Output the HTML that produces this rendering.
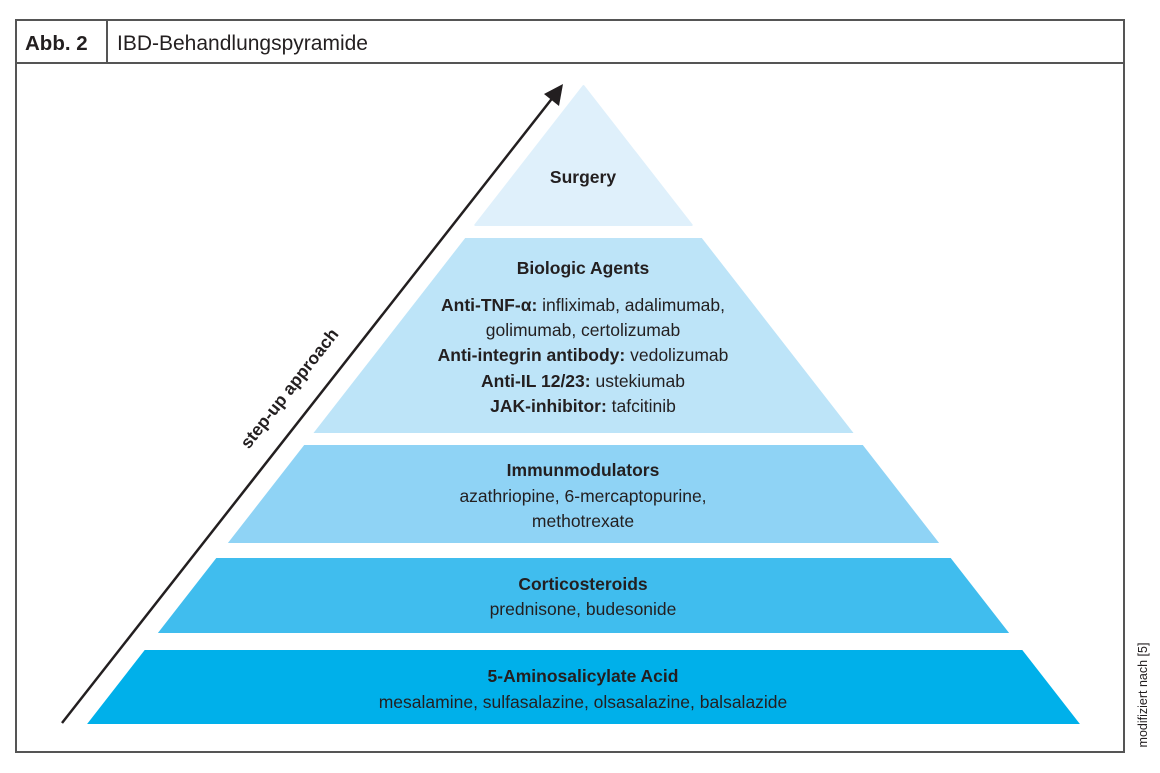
<!DOCTYPE html>
<html><head><meta charset="utf-8"><style>
html,body{margin:0;padding:0;background:#fff}
svg{display:block}
text{font-family:"Liberation Sans",Arial,sans-serif;fill:#231f20}
.b{font-weight:bold}
</style></head><body>
<svg width="1160" height="773" viewBox="0 0 1160 773">
<rect x="16" y="20" width="1108" height="732" fill="none" stroke="#555" stroke-width="2"/>
<line x1="16" y1="63" x2="1124" y2="63" stroke="#555" stroke-width="2"/>
<line x1="107" y1="20" x2="107" y2="63" stroke="#555" stroke-width="2"/>
<text x="25" y="50" font-size="20.5" class="b">Abb. 2</text>
<text x="117" y="50" font-size="21">IBD-Behandlungspyramide</text>

<polygon points="583.5,86 691.7,225 475.3,225" fill="#dff0fb" stroke="#dff0fb" stroke-linejoin="round" stroke-width="2"/>
<polygon points="465.2,238 701.8,238 853.5,433 313.5,433" fill="#bde4f8"/>
<polygon points="304.2,445 862.8,445 939.1,543 227.9,543" fill="#8fd3f5"/>
<polygon points="216.3,558 950.7,558 1009.1,633 157.9,633" fill="#40bdee"/>
<polygon points="144.7,650 1022.3,650 1079.9,724 87.1,724" fill="#00b0ea"/>

<line x1="62" y1="723" x2="554" y2="96" stroke="#231f20" stroke-width="2.5"/>
<polygon points="563,84 559,106 544,94" fill="#231f20"/>
<text transform="translate(294,392) rotate(-51.9)" text-anchor="middle" font-size="17.5" class="b">step-up approach</text>

<g text-anchor="middle" font-size="17.5">
<text x="583" y="183" class="b">Surgery</text>
<text x="583" y="274" class="b">Biologic Agents</text>
<text x="583" y="311"><tspan class="b">Anti-TNF-α:</tspan> infliximab, adalimumab,</text>
<text x="583" y="336">golimumab, certolizumab</text>
<text x="583" y="361"><tspan class="b">Anti-integrin antibody:</tspan> vedolizumab</text>
<text x="583" y="387"><tspan class="b">Anti-IL 12/23:</tspan> ustekiumab</text>
<text x="583" y="412"><tspan class="b">JAK-inhibitor:</tspan> tafcitinib</text>
<text x="583" y="476" class="b">Immunmodulators</text>
<text x="583" y="502">azathriopine, 6-mercaptopurine,</text>
<text x="583" y="527">methotrexate</text>
<text x="583" y="590" class="b">Corticosteroids</text>
<text x="583" y="615">prednisone, budesonide</text>
<text x="583" y="682" class="b">5-Aminosalicylate Acid</text>
<text x="583" y="708">mesalamine, sulfasalazine, olsasalazine, balsalazide</text>
</g>
<text transform="translate(1147,695) rotate(-90)" text-anchor="middle" font-size="12.5" fill="#444">modifiziert nach [5]</text>
</svg>
</body></html>
